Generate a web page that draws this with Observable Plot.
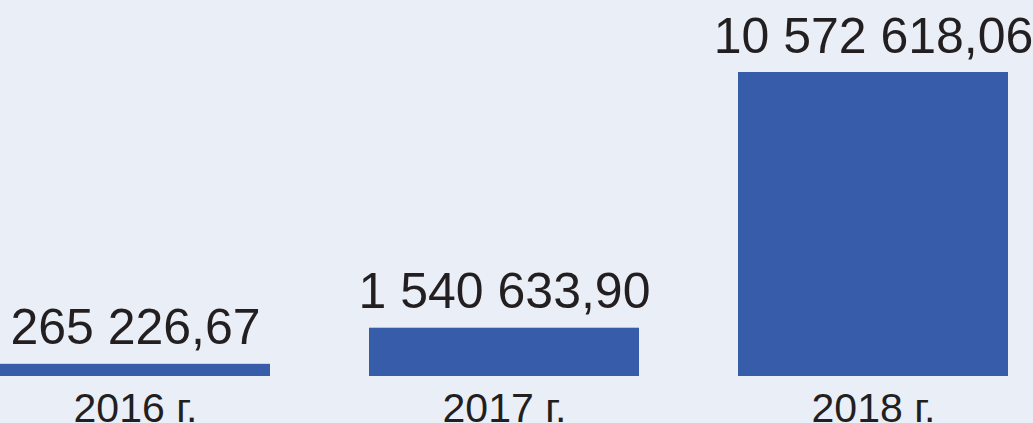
<!DOCTYPE html>
<html>
<head>
<meta charset="utf-8">
<script src="https://cdn.jsdelivr.net/npm/d3@7"></script>
<script src="https://cdn.jsdelivr.net/npm/@observablehq/plot@0.6"></script>
<style>
  html, body { margin: 0; padding: 0; background: #eaeff7; overflow: hidden; }
  #chart svg { display: block; }
</style>
</head>
<body>
<div id="chart"></div>
<script>
const years = ["2016 г.", "2017 г.", "2018 г."];
const values = [265226.67, 1540633.90, 10572618.06];

const data = years.map((y, i) => ({year: y, value: values[i]}));
const ru = d3.formatLocale({decimal: ",", thousands: " ", grouping: [3], currency: ["", ""]});
const fmt = ru.format(",.2f");

const chart = Plot.plot({
  width: 1033,
  height: 423,
  marginTop: 72,
  marginBottom: 47,
  marginLeft: -1,
  marginRight: 24,
  style: {background: "#eaeff7", fontFamily: "'Liberation Sans', Arial, sans-serif", color: "#231f20"},
  x: {domain: years, paddingInner: 0.267, paddingOuter: 0, label: null},
  y: {domain: [-165000, 10572618.06], axis: null},
  marks: [
    Plot.barY(data, {x: "year", y1: -165000, y2: "value", fill: "#375ca9"}),
    Plot.text(data, {x: "year", y: "value", text: d => fmt(d.value), lineAnchor: "bottom", dy: -20, fontSize: 50, fill: "#231f20"}),
    Plot.axisX({tickSize: 0, tickPadding: 16, fontSize: 41, fill: "#231f20", label: null})
  ]
});
document.getElementById("chart").appendChild(chart);
</script>
</body>
</html>
